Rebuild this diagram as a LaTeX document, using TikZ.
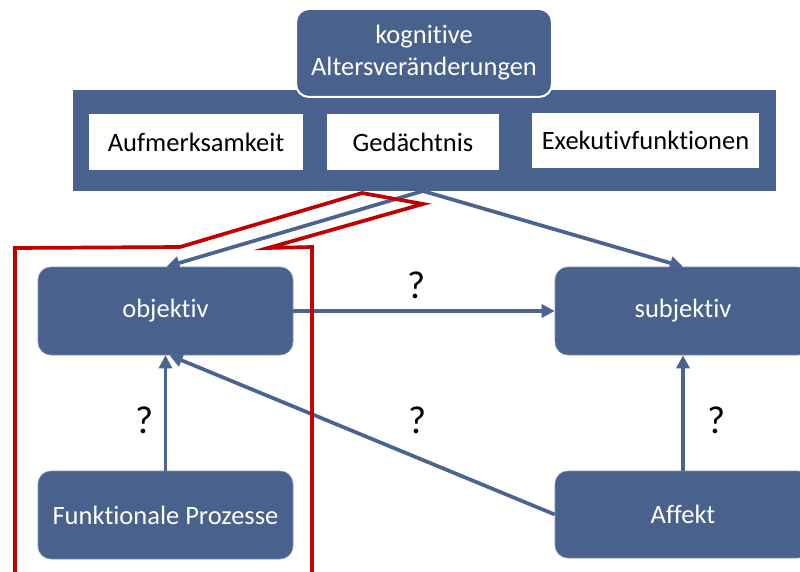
\documentclass[tikz,border=0pt]{standalone}
\usepackage{fontspec}
\setmainfont{Carlito}[Ligatures={NoCommon}]
\usetikzlibrary{arrows.meta}
\definecolor{boxblue}{RGB}{73,97,141}
\definecolor{linkblue}{RGB}{74,99,145}
\definecolor{outlinered}{RGB}{192,0,0}
\begin{document}
\begin{tikzpicture}[x=1pt,y=-1pt,
  bluebox/.style={fill=boxblue,draw=boxblue!70!white,line width=0.6pt,rounded corners=13pt,
    text=white,inner sep=0pt,align=center,font=\fontsize{26.5}{32}\selectfont},
  whitebox/.style={fill=white,draw=none,inner sep=0pt,text=black,font=\fontsize{26.5}{32}\selectfont},
  link/.style={draw=linkblue,line width=3.7pt,-{Triangle[length=13pt,width=13pt]}},
  qmark/.style={text=black,inner sep=0pt,font=\fontsize{39}{40}\selectfont},
  focus/.style={draw=outlinered,line width=3.7pt,line join=miter}
]
\useasboundingbox (0,0) rectangle (800,572);

% header bar with the three domains
\node[fill=boxblue,draw=none,minimum width=703pt,minimum height=101pt,inner sep=0pt] (bar) at (424.5,141) {};
\node[whitebox,minimum width=214pt,minimum height=56pt] (auf) at (196,142) {Aufmerksamkeit};
\node[whitebox,minimum width=172pt,minimum height=56pt] (ged) at (413,142) {Gedächtnis};
\node[whitebox,minimum width=227pt,minimum height=55pt] (exe) at (645.5,140.5) {Exekutivfunktionen};

% title box sitting on the bar
\node[bluebox,draw=white,line width=2pt,minimum width=256pt,minimum height=88pt] (top) at (424,53)
  {kognitive\\Altersveränderungen};

% outcome and predictor boxes
\node[bluebox,minimum width=255pt,minimum height=88pt] (obj) at (165.5,311) {objektiv};
\node[bluebox,minimum width=256pt,minimum height=88pt] (subj) at (683,311) {subjektiv};
\node[bluebox,minimum width=255pt,minimum height=88pt] (funk) at (165.5,515) {Funktionale Prozesse};
\node[bluebox,minimum width=256pt,minimum height=87pt] (aff) at (683,514.5) {Affekt};

% connectors
\coordinate (src) at (423,191);
\draw[link] (src) -- ([xshift=1pt]obj.north);
\draw[link] (src) -- (subj.north);
\draw[link] (obj.east) -- (subj.west);
\draw[link] (funk.north) -- (obj.south);
\draw[link] (aff.west) -- ([xshift=4pt]obj.south);
\draw[link] (aff.north) -- (subj.south);

% question marks
\node[qmark] (q1) at (417,285) {?};
\node[qmark] (q2) at (145,420) {?};
\node[qmark] (q3) at (418,420) {?};
\node[qmark] (q4) at (717,420) {?};

% red outline around the objective path
\draw[focus] (15,580) -- (15,248) -- (180,247) -- (362,193) -- (423,204)
  -- (268,248) -- (312,247) -- (312,580);
\end{tikzpicture}
\end{document}
